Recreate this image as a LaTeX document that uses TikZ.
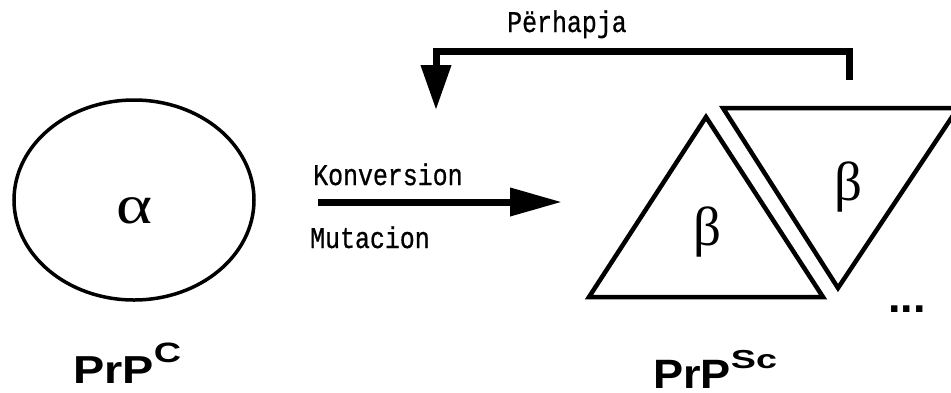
\documentclass[tikz,border=0pt]{standalone}
\usepackage{fontspec}
\setmainfont{Liberation Serif}
\newfontfamily\labelfont[FakeBold=0.8]{Liberation Mono}
\newfontfamily\namefont{Liberation Sans}
\usetikzlibrary{arrows.meta,shapes.geometric}
% a label in the slab-serif step font, narrowed
\newcommand{\steptext}[1]{\scalebox{0.83}[1]{\labelfont\fontsize{30}{30}\selectfont #1}}
% a protein name: bold sans stem with a widened superscript
\newcommand{\protname}[6]{%
  \scalebox{#2}[1]{\namefont\bfseries\fontsize{#1}{#1}\selectfont PrP}%
  \raisebox{#6}{\scalebox{#5}[1]{\namefont\bfseries\fontsize{#4}{#4}\selectfont #3}}}
\begin{document}
\begin{tikzpicture}[x=1pt,y=-1pt,
  shapeline/.style={draw=black, line width=4.5pt, line join=miter},
  flowarrow/.style={draw=black, line width=7pt, line join=miter},
  steplabel/.style={anchor=base west, inner sep=0pt},
  greek/.style={font=\fontsize{55}{55}\selectfont, anchor=base, inner sep=0pt},
  protein/.style={anchor=base west, inner sep=0pt}]
\clip (0,0) rectangle (951,392);
\fill[white] (0,0) rectangle (951,392);

% normal prion protein: alpha-helical monomer
\node[ellipse, draw, line width=3.5pt, minimum width=240pt, minimum height=200pt] (prpc) at (134,200) {};
\node[greek] (alpha) at (135,223) {\scalebox{1.25}[1]{α}};
\node[protein] (prpcname) at (73,383) {\protname{39}{1.2}{C}{28}{1.35}{21pt}};

% conversion arrow
\coordinate (k1) at (318,202);
\coordinate (k2) at (562,202);
\draw[flowarrow, -{Triangle[length=52pt,width=27pt]}] (k1) -- (k2);
\node[steplabel] (konv) at (313,185) {\steptext{Konversion}};
\node[steplabel] (mut) at (310,248) {\steptext{Mutacion}};

% scrapie form: stacked beta-sheet triangles
\coordinate (t1a) at (706,117);
\coordinate (t1b) at (589,297);
\coordinate (t1c) at (823,297);
\draw[shapeline] (t1a) -- (t1b) -- (t1c) -- cycle;
\coordinate (t2a) at (723,108);
\coordinate (t2b) at (958,108);
\coordinate (t2c) at (838,288);
\draw[shapeline] (t2a) -- (t2b) -- (t2c) -- cycle;
\node[greek] (beta1) at (707,245) {β};
\node[greek] (beta2) at (848,200) {β};
\node[font=\namefont\bfseries\fontsize{45}{45}\selectfont, anchor=base west, inner sep=0pt] (more) at (888,312) {...};
\node[protein] (prpscname) at (653,388) {\protname{41}{1.1}{Sc}{26}{1.45}{20pt}};

% propagation feedback arrow
\coordinate (fa) at (849,80);
\coordinate (fb) at (849,51.5);
\coordinate (fc) at (436,51.5);
\coordinate (fd) at (436,110);
\draw[flowarrow, -{Triangle[length=45pt,width=29pt]}] (fa) -- (fb) -- (fc) -- (fd);
\node[steplabel] (perh) at (507,32) {\steptext{Përhapja}};
\end{tikzpicture}
\end{document}
